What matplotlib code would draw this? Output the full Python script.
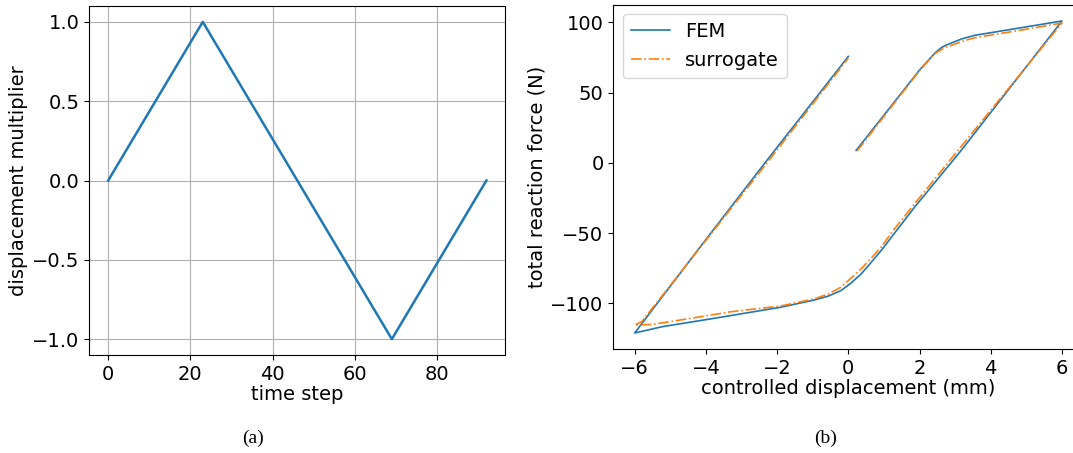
import numpy as np
import matplotlib
matplotlib.use('Agg')
import matplotlib.pyplot as plt

# (a) loading history
time_steps = [0, 23, 69, 92]
disp_mult = [0.0, 1.0, -1.0, 0.0]

# (b) force-displacement loop
fem_x = [0.22, 2.0, 2.33, 2.45, 2.61, 2.75, 2.89, 3.2, 3.55, 4.68, 6.0,
         3.17, 1.86, 1.3, 0.92, 0.62, 0.36, 0.08, -0.21, -0.58, -0.95, -1.90,
         -3.87, -5.2, -6.0,
         -4.24, -2.36, 0.0]
fem_f = [8.8, 66.0, 75.2, 78.5, 81.9, 83.8, 85.2, 88.3, 90.7, 95.4, 100.9,
         8.8, -31.6, -50.0, -62.5, -71.5, -79.1, -85.5, -91.0, -95.0, -97.6, -102.8,
         -111.1, -116.5, -121.1,
         -62.5, -0.7, 75.7]

sur_x = [0.25, 2.0, 2.33, 2.45, 2.61, 2.75, 2.89, 3.2, 3.55, 4.68, 6.0,
         3.08, 1.86, 1.25, 0.92, 0.62, 0.36, 0.08, -0.21, -0.58, -0.95, -1.90,
         -3.3, -4.5, -5.5, -6.0,
         -5.8, -2.36, 0.0]
sur_f = [8.5, 65.5, 75.0, 78.0, 80.5, 82.3, 83.5, 86.5, 89.0, 93.7, 99.4,
         8.8, -29.2, -48.5, -60.1, -68.5, -75.5, -82.0, -88.6, -93.5, -96.8, -101.9,
         -106.0, -111.0, -115.0, -115.5,
         -113.0, -2.5, 74.5]

plt.rcParams['font.size'] = 14
plt.rcParams['font.family'] = 'DejaVu Sans'

W, H = 1073, 453
fig = plt.figure(figsize=(W / 100, H / 100), dpi=100)

ax1 = fig.add_axes([89.3 / W, (H - 355) / H, 416 / W, 349 / H])
ax1.plot(time_steps, disp_mult, color='#1f77b4', lw=1.8)
ax1.grid(True, color='#b0b0b0', lw=0.8)
ax1.set_xticks([0, 20, 40, 60, 80])
ax1.set_yticks([-1.0, -0.5, 0.0, 0.5, 1.0])
ax1.set_xlabel('time step', labelpad=1)
ax1.set_ylabel('displacement multiplier', labelpad=3)

ax2 = fig.add_axes([613.3 / W, (H - 349) / H, 470 / W, 344.3 / H])
ax2.plot(fem_x, fem_f, color='#1f77b4', lw=1.2, label='FEM')
ax2.plot(sur_x, sur_f, color='#ff7f0e', lw=1.2, ls='-.', label='surrogate')
ax2.set_xlim(-6.6, 6.6)
ax2.set_ylim(-132.5, 112.5)
ax2.set_xticks([-6, -4, -2, 0, 2, 4, 6])
ax2.set_yticks([-100, -50, 0, 50, 100])
ax2.set_xlabel('controlled displacement (mm)', labelpad=1)
ax2.set_ylabel('total reaction force (N)', labelpad=3)
ax2.legend(loc='upper left')

cap_font = dict(family=['Liberation Serif', 'DejaVu Serif'], size=14,
                ha='center', va='center')
fig.text(253 / W, 1 - 438.7 / H, '(a)', **cap_font)
fig.text(826 / W, 1 - 438.7 / H, '(b)', **cap_font)

fig.savefig('out.png', dpi=100)
